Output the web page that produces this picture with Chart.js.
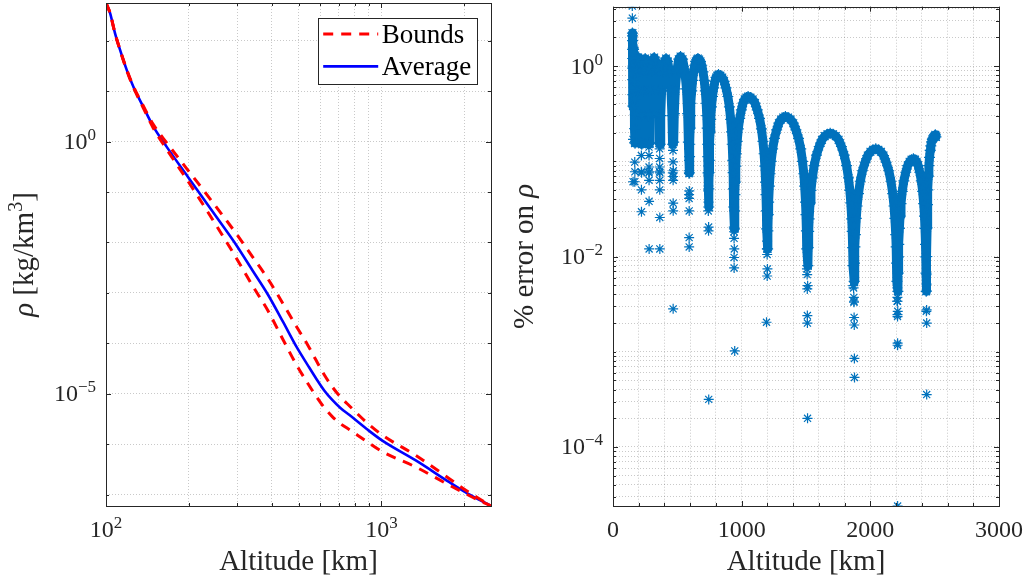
<!DOCTYPE html>
<html>
<head>
<meta charset="utf-8">
<script src="https://cdn.jsdelivr.net/npm/chart.js@4.4.1/dist/chart.umd.min.js"></script>
<style>
  html, body { margin: 0; padding: 0; background: #fff; }
  #wrap { position: relative; width: 1028px; height: 582px; }
  .panel { position: absolute; top: 0; width: 514px; height: 582px; }
</style>
</head>
<body>
<div id="wrap">
  <div class="panel" style="left:0"><canvas id="rho" width="514" height="582"></canvas></div>
  <div class="panel" style="left:514px"><canvas id="err" width="514" height="582"></canvas></div>
</div>
<script>
// ---- left panel: density vs altitude ----
const altRho = [100, 103.4, 107.8, 112.4, 118.9, 125.6, 136.5, 148.4, 165.9, 196, 217, 250, 293, 340, 387, 440, 492, 540, 580, 620, 663, 710, 766, 882, 1011, 1333, 1765, 2024, 2250, 2500];
const rhoAverage = [557, 355, 141, 66.1, 26.3, 12.3, 4.90, 2.00, 0.794, 0.219, 0.100, 0.0339, 0.0100, 2.82e-3, 9.33e-4, 2.63e-4, 8.51e-5, 3.72e-5, 2.00e-5, 1.17e-5, 7.59e-6, 5.25e-6, 3.80e-6, 2.04e-6, 1.17e-6, 4.79e-7, 1.78e-7, 1.12e-7, 8.13e-8, 6.03e-8];
const rhoUpper = [557, 355, 141, 66.1, 26.9, 12.6, 5.13, 2.19, 0.955, 0.295, 0.145, 0.0525, 0.0166, 5.25e-3, 1.91e-3, 6.03e-4, 2.14e-4, 9.33e-5, 4.57e-5, 2.40e-5, 1.38e-5, 8.71e-6, 5.75e-6, 2.75e-6, 1.51e-6, 6.03e-7, 2.09e-7, 1.23e-7, 8.51e-8, 6.03e-8];
const rhoLower = [557, 355, 141, 66.1, 25.7, 12.0, 4.68, 1.86, 0.708, 0.182, 0.0776, 0.0229, 5.62e-3, 1.41e-3, 4.47e-4, 1.17e-4, 3.72e-5, 1.62e-5, 8.91e-6, 5.37e-6, 3.55e-6, 2.57e-6, 1.95e-6, 1.15e-6, 7.08e-7, 3.55e-7, 1.55e-7, 1.05e-7, 7.85e-8, 6.03e-8];

const rhoXTicks = [100, 200, 300, 400, 500, 600, 700, 800, 900, 1000, 2000];
const rhoXLabelAt = [100, 1000];
const rhoXLabelExp = ['2', '3'];
const rhoYTicks = [1e-7, 1e-6, 1e-5, 1e-4, 1e-3, 1e-2, 1e-1, 1, 10, 100];
const rhoYLabelAt = [1, 1e-5];
const rhoYLabelExp = ['0', '\u22125'];

// ---- right panel: % error on rho vs altitude ----
// dense band of markers along each lobe
const errAlt = [
  151, 151.5, 152, 152.5, 153, 153.5, 154, 154.5, 155, 156.5, 158, 160, 162, 164, 165.5, 166.5, 167.5, 168.3,
  171.1, 173.2, 176.8, 182.5, 188.8, 195, 201.2, 207.5, 213.2, 216.8, 218.9,
  223.3, 225.6, 229.7, 236.1, 243, 250, 257.2, 264.4, 271, 275.2, 277.6,
  283.2, 286.4, 292, 300.8, 310.4, 320, 330.3, 340.6, 350.1, 356.1, 359.6,
  366.9, 370.8, 377.7, 388.5, 400.2, 412, 425.2, 438.4, 450.5, 458.2, 462.6,
  471.6, 476.3, 484.4, 497.2, 511.1, 525, 540.8, 556.7, 571.2, 580.4, 585.7,
  593.8, 595.1, 596.5, 599.3, 602, 606.2, 611.7, 618.6, 626.9, 635.2, 643.4, 651.7, 660, 669.8, 679.7, 689.5, 699.4, 709.2, 717.4, 724, 728.9, 732.2, 735.4, 737.1, 738.7,
  744, 745.1, 746.7, 748.2, 751.4, 754.5, 759.2, 765.4, 773.2, 782.6, 791.9, 801.3, 810.6, 820, 834.5, 849, 863.6, 878.1, 892.6, 904.7, 914.4, 921.6, 926.5, 931.3, 933.7, 936.2, 937.9,
  943.8, 945.4, 947.5, 949.7, 954.1, 958.4, 965, 973.7, 984.6, 997.7, 1010.8, 1023.8, 1036.9, 1050, 1067.8, 1085.5, 1103.3, 1121, 1138.8, 1153.6, 1165.4, 1174.3, 1180.2, 1186.2, 1189.1, 1192.1, 1194.2,
  1201.7, 1203.7, 1206.5, 1209.4, 1215, 1220.7, 1229.2, 1240.6, 1254.8, 1271.8, 1288.9, 1305.9, 1323, 1340, 1360.4, 1380.8, 1401.2, 1421.6, 1442, 1459, 1472.6, 1482.8, 1489.6, 1496.4, 1499.8, 1503.2, 1505.6,
  1514.6, 1517.1, 1520.7, 1524.2, 1531.4, 1538.5, 1549.2, 1563.4, 1581.2, 1602.6, 1623.9, 1645.3, 1666.6, 1688, 1709.8, 1731.7, 1753.5, 1775.4, 1797.2, 1815.4, 1830, 1840.9, 1848.2, 1855.4, 1859.1, 1862.7, 1865.3,
  1874.5, 1876.9, 1880.3, 1883.8, 1890.6, 1897.5, 1907.8, 1921.6, 1938.8, 1959.4, 1980.1, 2000.7, 2021.4, 2042, 2062.3, 2082.6, 2102.8, 2123.1, 2143.4, 2160.3, 2173.8, 2184, 2190.7, 2197.5, 2200.9, 2204.2, 2206.6,
  2214.2, 2216, 2218.4, 2220.9, 2225.9, 2230.8, 2238.3, 2248.2, 2260.6, 2275.5, 2290.4, 2305.2, 2320.1, 2335, 2347.2, 2359.5, 2371.7, 2384, 2396.2, 2406.4, 2414.6, 2420.7, 2424.8, 2428.8, 2430.9, 2432.9, 2434.3,
  2439, 2441, 2444, 2447, 2451, 2455, 2460, 2465, 2470, 2476, 2482, 2488, 2494, 2500, 2505, 2510
];
const errPct = [
  2.22, 2.07, 1.85, 1.5, 1.2, 0.95, 0.72, 0.5, 0.38, 1.0, 1.55, 1.5, 1.4, 1.2, 0.95, 0.7, 0.45, 0.22,
  0.155, 0.309, 0.562, 0.891, 1.15, 1.23, 1.15, 0.891, 0.562, 0.309, 0.155,
  0.151, 0.301, 0.548, 0.869, 1.12, 1.20, 1.12, 0.869, 0.548, 0.301, 0.151,
  0.155, 0.309, 0.562, 0.891, 1.15, 1.23, 1.15, 0.891, 0.562, 0.309, 0.155,
  0.151, 0.301, 0.548, 0.869, 1.12, 1.20, 1.12, 0.869, 0.548, 0.301, 0.151,
  0.159, 0.316, 0.576, 0.912, 1.18, 1.26, 1.18, 0.912, 0.576, 0.316, 0.159,
  0.0757, 0.112, 0.151, 0.223, 0.301, 0.407, 0.548, 0.707, 0.869, 1.02, 1.12, 1.17, 1.20, 1.17, 1.12, 1.02, 0.869, 0.707, 0.548, 0.407, 0.301, 0.223, 0.151, 0.112, 0.0757,
  0.0331, 0.0513, 0.0759, 0.102, 0.151, 0.204, 0.275, 0.372, 0.479, 0.589, 0.692, 0.759, 0.794, 0.813, 0.794, 0.759, 0.692, 0.589, 0.479, 0.372, 0.275, 0.204, 0.151, 0.102, 0.0759, 0.0513, 0.0331,
  0.0195, 0.0302, 0.0447, 0.0604, 0.0891, 0.120, 0.162, 0.219, 0.282, 0.347, 0.408, 0.447, 0.468, 0.479, 0.468, 0.447, 0.408, 0.347, 0.282, 0.219, 0.162, 0.120, 0.0891, 0.0604, 0.0447, 0.0302, 0.0195,
  0.0120, 0.0186, 0.0275, 0.0372, 0.0549, 0.0740, 0.100, 0.135, 0.174, 0.214, 0.251, 0.275, 0.288, 0.295, 0.288, 0.275, 0.251, 0.214, 0.174, 0.135, 0.100, 0.0740, 0.0549, 0.0372, 0.0275, 0.0186, 0.0120,
  0.00802, 0.0124, 0.0184, 0.0248, 0.0366, 0.0494, 0.0668, 0.0900, 0.116, 0.143, 0.168, 0.184, 0.192, 0.197, 0.192, 0.184, 0.168, 0.143, 0.116, 0.0900, 0.0668, 0.0494, 0.0366, 0.0248, 0.0184, 0.0124, 0.00802,
  0.00549, 0.00852, 0.0126, 0.0170, 0.0251, 0.0339, 0.0458, 0.0617, 0.0795, 0.0977, 0.115, 0.126, 0.132, 0.135, 0.132, 0.126, 0.115, 0.0977, 0.0795, 0.0617, 0.0458, 0.0339, 0.0251, 0.0170, 0.0126, 0.00852, 0.00549,
  0.00431, 0.00669, 0.00989, 0.0134, 0.0197, 0.0266, 0.0359, 0.0484, 0.0624, 0.0767, 0.0902, 0.0989, 0.104, 0.106, 0.104, 0.0989, 0.0902, 0.0767, 0.0624, 0.0484, 0.0359, 0.0266, 0.0197, 0.0134, 0.00989, 0.00669, 0.00431,
  0.01, 0.02, 0.035, 0.05, 0.07, 0.09, 0.11, 0.13, 0.145, 0.16, 0.17, 0.175, 0.18, 0.185, 0.19, 0.18
];
// isolated markers in the columns under each dip
const dipAlt = [
  150, 150.5, 155.5, 156, 169, 169.3,
  170.0, 220.0, 220.5, 221, 221.3,
  222.2, 278.8, 279.5, 280, 280, 280.3, 280.5, 280.8,
  281.6, 361.3, 362, 362.5, 363, 363, 363.3, 363.5, 363.8, 364,
  365, 464.8, 466, 466.5, 467, 467, 467.3, 467.5, 467.8, 467.5,
  469.3, 588.4, 590, 590.5, 591, 591, 591.3, 591.5, 591.8, 592,
  592.1, 592.8, 739.9, 740.7, 741.5, 742, 742, 742.3, 742.5, 744,
  743.2, 939.1, 940.5, 941, 941.2, 941.5, 946,
  942.7, 1195.6, 1197.5, 1198, 1198.3, 1193,
  1200.3, 1507.3, 1509, 1510, 1510.5, 1511, 1512,
  1512.8, 1867.1, 1870, 1872, 1873, 1874, 1875, 1876, 1877,
  1872.8, 2208.3, 2210, 2210.5, 2211, 2211, 2211.5, 2212, 2212, 2212,
  2213, 2435.4, 2436.5, 2437, 2437, 2437.5, 2438, 2438
];
const dipPct = [
  4.27, 3.18, 0.17, 0.061, 0.098, 0.061,
  0.0776, 0.0776, 0.115, 0.0501, 0.0295,
  0.0757, 0.0757, 0.141, 0.115, 0.0871, 0.0631, 0.038, 0.012,
  0.0776, 0.0776, 0.158, 0.135, 0.107, 0.0871, 0.0631, 0.0501, 0.0257, 0.012,
  0.0757, 0.0757, 0.158, 0.130, 0.0984, 0.0692, 0.0631, 0.0363, 0.0302, 0.00282,
  0.0795, 0.0795, 0.158, 0.135, 0.102, 0.0741, 0.0447, 0.0407, 0.0158, 0.0126,
  0.0301, 0.0488, 0.0488, 0.0301, 0.0891, 0.0714, 0.055, 0.0372, 0.0186, 0.000316,
  0.0204, 0.0204, 0.0182, 0.0155, 0.00977, 0.00759, 0.00102,
  0.0120, 0.0120, 0.0145, 0.0105, 0.00624, 0.00204,
  0.0074, 0.0074, 0.00646, 0.00457, 0.0024, 0.002, 0.0002,
  0.00494, 0.00494, 0.00468, 0.00372, 0.00331, 0.00229, 0.00191, 0.000851, 0.000537,
  0.00339, 0.00339, 0.00468, 0.00372, 0.00339, 0.00245, 0.00234, 0.00123, 0.00117, 0.000024,
  0.00266, 0.00266, 0.00646, 0.00513, 0.00437, 0.00275, 0.002, 0.000355
];

const errXTicks = [0, 200, 400, 600, 800, 1000, 1200, 1400, 1600, 1800, 2000, 2200, 2400, 2600, 2800, 3000];
const errXLabelAt = [0, 1000, 2000, 3000];
const errXLabels = ['0', '1000', '2000', '3000'];
const errYMin = 2.4e-5, errYMax = 4.2;
const errYLabelAt = [1, 1e-2, 1e-4];
const errYLabelExp = ['0', '\u22122', '\u22124'];
const errYTicks = [];
[1e-5, 1e-4, 1e-3, 1e-2, 1e-1, 1].forEach(d => {
  [1, 2, 3, 4, 5, 6, 7, 8, 9].forEach(k => {
    const v = +(k * d).toPrecision(3);
    if (v >= errYMin && v <= errYMax) errYTicks.push(v);
  });
});

// ---- text helpers (MATLAB/LaTeX-like labels with superscripts) ----
const SERIF = '"Liberation Serif", "DejaVu Serif", serif';
const INK = '#262626';
const runFont = r => (r.italic ? 'italic ' : '') + r.size + 'px ' + SERIF;

function runsWidth(ctx, runs) {
  let w = 0;
  runs.forEach(r => { ctx.font = runFont(r); w += ctx.measureText(r.text).width; });
  return w;
}

function drawRuns(ctx, runs, x, y, align, rotate, color) {
  ctx.save();
  ctx.translate(x, y);
  if (rotate) ctx.rotate(-Math.PI / 2);
  const w = runsWidth(ctx, runs);
  let cx = align === 'right' ? -w : (align === 'center' ? -w / 2 : 0);
  ctx.fillStyle = color || INK;
  ctx.textAlign = 'left';
  ctx.textBaseline = 'alphabetic';
  runs.forEach(r => {
    ctx.font = runFont(r);
    ctx.fillText(r.text, cx, -(r.rise || 0));
    cx += ctx.measureText(r.text).width;
  });
  ctx.restore();
}

const pow10 = exp => [{ text: '10', size: 24 }, { text: exp, size: 17, rise: 9 }];
const plain = t => [{ text: t, size: 24 }];

const axisText = {
  rho: {
    xLabels: rhoXLabelAt.map((v, i) => ({ v, runs: pow10(rhoXLabelExp[i]) })),
    yLabels: rhoYLabelAt.map((v, i) => ({ v, runs: pow10(rhoYLabelExp[i]) })),
    xTitle: [{ text: 'Altitude [km]', size: 29 }],
    yTitle: [{ text: '\u03c1', size: 29, italic: true }, { text: ' [kg/km', size: 29 }, { text: '3', size: 20, rise: 11 }, { text: ']', size: 29 }],
    yTitleX: 33,
    legend: true
  },
  err: {
    xLabels: errXLabelAt.map((v, i) => ({ v, runs: plain(errXLabels[i]) })),
    yLabels: errYLabelAt.map((v, i) => ({ v, runs: pow10(errYLabelExp[i]) })),
    xTitle: [{ text: 'Altitude [km]', size: 29 }],
    yTitle: [{ text: '% error on ', size: 29 }, { text: '\u03c1', size: 29, italic: true }],
    yTitleX: 19,
    legend: false
  }
};

// box, inward ticks on all four sides, tick labels, titles, legend
const matlabAxes = {
  id: 'matlabAxes',
  afterDatasetsDraw(chart) {
    const spec = axisText[chart.canvas.id];
    const ctx = chart.ctx, a = chart.chartArea;
    const xs = chart.scales.x, ys = chart.scales.y;
    ctx.save();
    ctx.strokeStyle = INK;
    ctx.lineWidth = 1;
    ctx.setLineDash([]);
    ctx.beginPath();
    xs.ticks.forEach(t => {
      const px = Math.round(xs.getPixelForValue(t.value)) + 0.5;
      const len = t.major ? 5 : 3;
      ctx.moveTo(px, a.bottom); ctx.lineTo(px, a.bottom - len);
      ctx.moveTo(px, a.top); ctx.lineTo(px, a.top + len);
    });
    ys.ticks.forEach(t => {
      const py = Math.round(ys.getPixelForValue(t.value)) + 0.5;
      const len = t.major ? 5 : 3;
      ctx.moveTo(a.left, py); ctx.lineTo(a.left + len, py);
      ctx.moveTo(a.right, py); ctx.lineTo(a.right - len, py);
    });
    ctx.stroke();
    ctx.strokeRect(Math.round(a.left) + 0.5, Math.round(a.top) + 0.5,
      Math.round(a.right) - Math.round(a.left), Math.round(a.bottom) - Math.round(a.top));

    spec.xLabels.forEach(l => drawRuns(ctx, l.runs, xs.getPixelForValue(l.v), a.bottom + 31, 'center'));
    spec.yLabels.forEach(l => drawRuns(ctx, l.runs, a.left - 10, ys.getPixelForValue(l.v) + 7.5, 'right'));
    drawRuns(ctx, spec.xTitle, (a.left + a.right) / 2, a.bottom + 64, 'center');
    drawRuns(ctx, spec.yTitle, spec.yTitleX, (a.top + a.bottom) / 2, 'center', true);

    if (spec.legend) {
      const w = 159, h = 66;
      const x0 = a.right - 14.3 - w, y0 = a.top + 15;
      ctx.fillStyle = '#fff';
      ctx.fillRect(x0, y0, w, h);
      ctx.strokeStyle = INK;
      ctx.lineWidth = 1;
      ctx.strokeRect(Math.round(x0) + 0.5, Math.round(y0) + 0.5, w, h);
      const seen = [];
      chart.data.datasets.forEach(ds => { if (!seen.find(s => s.label === ds.label)) seen.push(ds); });
      seen.forEach((ds, i) => {
        const ry = y0 + 16 + i * 32.4;
        ctx.save();
        ctx.strokeStyle = ds.borderColor;
        ctx.lineWidth = ds.borderWidth;
        ctx.setLineDash(ds.borderDash || []);
        ctx.beginPath();
        ctx.moveTo(x0 + 5.5, ry); ctx.lineTo(x0 + 60.5, ry);
        ctx.stroke();
        ctx.restore();
        drawRuns(ctx, [{ text: ds.label, size: 27 }], x0 + 64, ry + 9, 'left', false, '#000');
      });
    }
    ctx.restore();
  }
};

const gridOpts = { color: 'rgba(38,38,38,0.25)', lineWidth: 1, drawTicks: false };
const borderOpts = { display: false, dash: [1, 2] };

function fixedTicks(list, majors) {
  return scale => { scale.ticks = list.map(v => ({ value: v, major: majors.includes(v) })); };
}

const pts = (xs, ys) => xs.map((x, i) => ({ x, y: ys[i] }));

new Chart(document.getElementById('rho'), {
  type: 'scatter',
  data: {
    datasets: [
      { label: 'Bounds', data: pts(altRho, rhoUpper), showLine: true, borderColor: '#ff0000', borderWidth: 3, borderDash: [10, 8], pointRadius: 0, cubicInterpolationMode: 'monotone', clip: 0, order: 0 },
      { label: 'Bounds', data: pts(altRho, rhoLower), showLine: true, borderColor: '#ff0000', borderWidth: 3, borderDash: [10, 8], pointRadius: 0, cubicInterpolationMode: 'monotone', clip: 0, order: 0 },
      { label: 'Average', data: pts(altRho, rhoAverage), showLine: true, borderColor: '#0000ff', borderWidth: 2.6, pointRadius: 0, cubicInterpolationMode: 'monotone', clip: 0, order: 1 }
    ]
  },
  options: {
    responsive: false,
    animation: false,
    devicePixelRatio: 1,
    events: [],
    layout: { padding: { left: 0, top: 3, right: 23, bottom: 0 } },
    plugins: { legend: { display: false }, tooltip: { enabled: false } },
    scales: {
      x: {
        type: 'logarithmic', min: 100, max: 2500,
        ticks: { display: false }, grid: gridOpts, border: borderOpts,
        afterBuildTicks: fixedTicks(rhoXTicks, rhoXLabelAt),
        afterFit: s => { s.height = 76; }
      },
      y: {
        type: 'logarithmic', min: 6.03e-8, max: 557,
        ticks: { display: false }, grid: gridOpts, border: borderOpts,
        afterBuildTicks: fixedTicks(rhoYTicks, rhoYLabelAt),
        afterFit: s => { s.width = 106; }
      }
    }
  },
  plugins: [matlabAxes]
});

const ERR_BLUE = '#0072BD';
new Chart(document.getElementById('err'), {
  type: 'scatter',
  data: {
    datasets: [
      { label: 'band', data: pts(errAlt, errPct), showLine: true, borderColor: ERR_BLUE, borderWidth: 9,
        borderJoinStyle: 'round', borderCapStyle: 'round', pointStyle: 'star', pointRadius: 5.5,
        pointBorderColor: ERR_BLUE, pointBackgroundColor: ERR_BLUE, pointBorderWidth: 1.2, clip: 0 },
      { label: 'dips', data: pts(dipAlt, dipPct), showLine: false, pointStyle: 'star', pointRadius: 5,
        pointBorderColor: ERR_BLUE, pointBackgroundColor: ERR_BLUE, pointBorderWidth: 1.2, clip: 0 }
    ]
  },
  options: {
    responsive: false,
    animation: false,
    devicePixelRatio: 1,
    events: [],
    layout: { padding: { left: 0, top: 3, right: 29, bottom: 0 } },
    plugins: { legend: { display: false }, tooltip: { enabled: false } },
    scales: {
      x: {
        type: 'linear', min: 0, max: 3000,
        ticks: { display: false }, grid: gridOpts, border: borderOpts,
        afterBuildTicks: fixedTicks(errXTicks, errXLabelAt),
        afterFit: s => { s.height = 76; }
      },
      y: {
        type: 'logarithmic', min: errYMin, max: errYMax,
        ticks: { display: false }, grid: gridOpts, border: borderOpts,
        afterBuildTicks: fixedTicks(errYTicks, errYLabelAt),
        afterFit: s => { s.width = 99; }
      }
    }
  },
  plugins: [matlabAxes]
});
</script>
</body>
</html>
